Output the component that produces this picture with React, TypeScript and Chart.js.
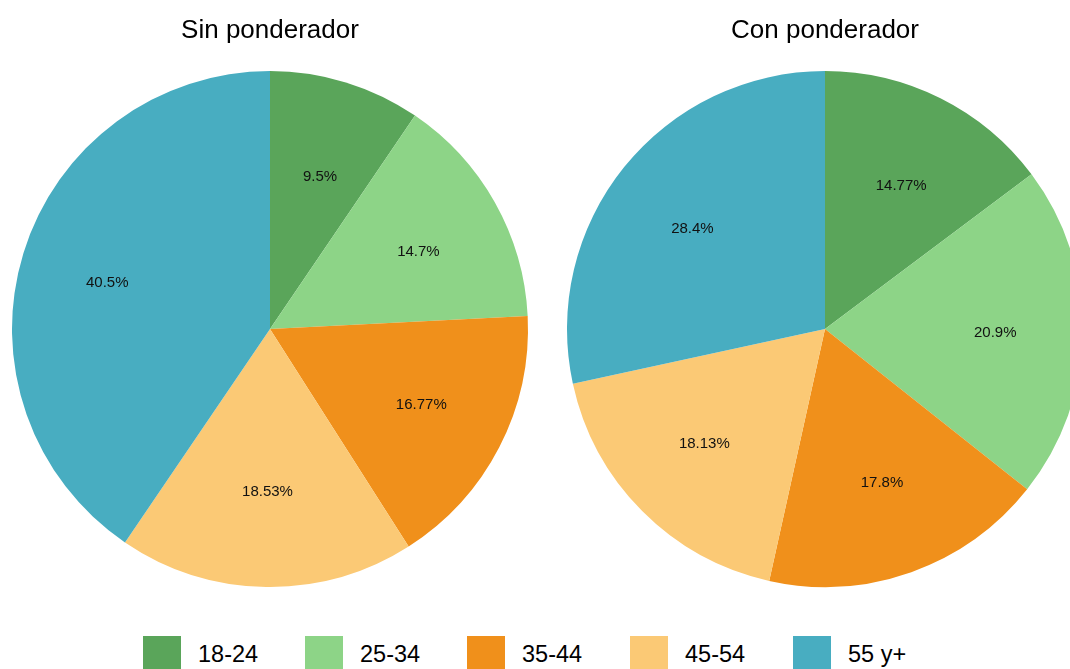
import React, { useEffect, useRef } from "react";
import { Chart, registerables } from "chart.js";

Chart.register(...registerables);

const categories = ["18-24", "25-34", "35-44", "45-54", "55 y+"];
const sinPonderador = [9.5, 14.7, 16.77, 18.53, 40.5];
const conPonderador = [14.77, 20.9, 17.8, 18.13, 28.4];
const colors = ["#5aa55a", "#8dd487", "#f0901b", "#fbc975", "#48adc1"];
const titles = ["Sin ponderador", "Con ponderador"];

const FONT = "'Liberation Sans', Arial, sans-serif";

const labelPlugin = {
  id: "sliceLabels",
  afterDatasetsDraw(chart: any) {
    const ctx = chart.ctx;
    const meta = chart.getDatasetMeta(0);
    const data = chart.data.datasets[0].data;
    ctx.save();
    ctx.font = `15px ${FONT}`;
    ctx.fillStyle = "#111";
    ctx.textAlign = "center";
    ctx.textBaseline = "middle";
    meta.data.forEach((arc: any, i: number) => {
      const p = arc.getProps(["x", "y", "startAngle", "endAngle", "outerRadius"], true);
      const mid = (p.startAngle + p.endAngle) / 2;
      const rx = p.outerRadius * 0.66;
      const ry = p.outerRadius * 0.625;
      ctx.fillText(`${data[i]}%`, p.x + Math.cos(mid) * rx, p.y + 1.5 + Math.sin(mid) * ry);
    });
    ctx.restore();
  },
};

function PieChart({ values, title, left }: { values: number[]; title: string; left: number }) {
  const ref = useRef<HTMLCanvasElement>(null);
  useEffect(() => {
    const chart = new Chart(ref.current!, {
      type: "pie",
      data: {
        labels: categories,
        datasets: [{ data: values, backgroundColor: colors, borderWidth: 0 }],
      },
      options: {
        responsive: false,
        animation: false,
        layout: { padding: { left: 12, right: 12, top: 0, bottom: 13 } },
        plugins: {
          legend: { display: false },
          tooltip: { enabled: false },
          title: {
            display: true,
            text: title,
            color: "#000",
            font: { family: FONT, size: 26, weight: "normal", lineHeight: 1.2 },
            padding: { top: 15, bottom: 24.8 },
          },
        },
      },
      plugins: [labelPlugin],
    });
    return () => chart.destroy();
  }, [values, title]);
  return (
    <canvas
      ref={ref}
      width={540}
      height={600}
      style={{ position: "absolute", left, top: 0, width: 540, height: 600 }}
    />
  );
}

export default function App() {
  const legendX = [143, 305, 467, 630, 793];
  return (
    <div
      style={{
        position: "fixed",
        left: 0,
        top: 0,
        width: 1070,
        height: 669,
        overflow: "hidden",
        background: "#fff",
        fontFamily: FONT,
      }}
    >
      <PieChart values={sinPonderador} title={titles[0]} left={0} />
      <PieChart values={conPonderador} title={titles[1]} left={555} />
      {categories.map((c, i) => (
        <div key={c} style={{ position: "absolute", left: legendX[i], top: 636, height: 40 }}>
          <div
            style={{
              position: "absolute",
              left: 0,
              top: 0,
              width: 38,
              height: 38,
              background: colors[i],
            }}
          />
          <div
            style={{
              position: "absolute",
              left: 55,
              top: 4,
              fontSize: 23.5,
              lineHeight: "28px",
              color: "#000",
              whiteSpace: "nowrap",
            }}
          >
            {c}
          </div>
        </div>
      ))}
    </div>
  );
}
